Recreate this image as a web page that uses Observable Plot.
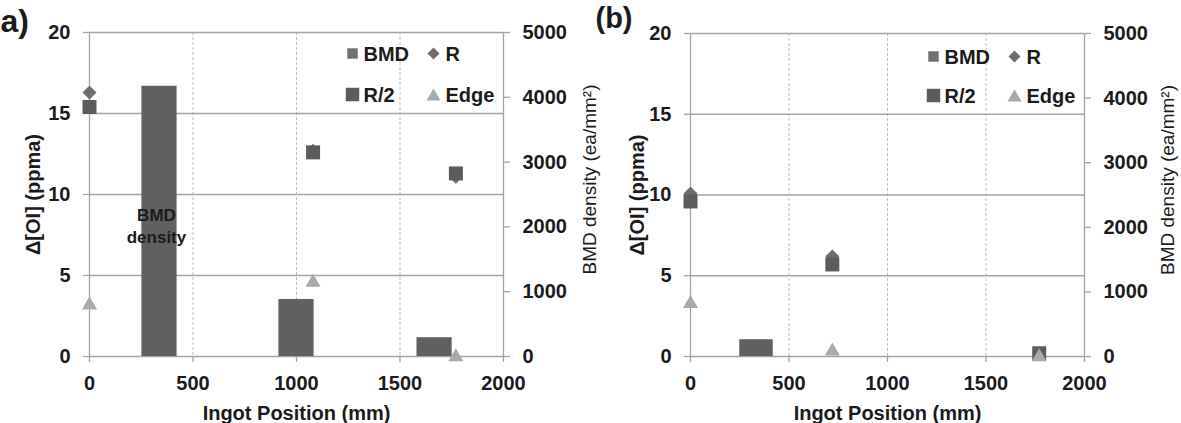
<!DOCTYPE html>
<html>
<head>
<meta charset="utf-8">
<script src="https://cdn.jsdelivr.net/npm/d3@7"></script>
<script src="https://cdn.jsdelivr.net/npm/@observablehq/plot@0.6"></script>
<style>
  html, body { margin: 0; padding: 0; background: #fff; }
  #chart { display: flex; width: 1181px; height: 423px; overflow: hidden; background: #fff; }
  #chart svg { flex: none; }
</style>
</head>
<body>
<div id="chart"></div>
<script>
// Shared axes
const xTicks = [0, 500, 1000, 1500, 2000];
const oiTicks = [0, 5, 10, 15, 20];
const densityTicks = [0, 1000, 2000, 3000, 4000, 5000];
const legendNames = ["BMD", "R", "R/2", "Edge"];

// Panel a: Δ[OI] at R, R/2 and edge, and BMD density bars
const aPosition = [0, 1080, 1770];
const aR = [16.3, 12.7, 11.1];
const aRHalf = [15.4, 12.6, 11.3];
const aEdge = [3.3, 4.7, 0.1];
const aBarCenter = [338, 1000, 1667];
const aBmd = [4170, 880, 290];

// Panel b
const bPosition = [0, 720, 1770];
const bR = [10.1, 6.2, 0.2];
const bRHalf = [9.6, 5.7, 0.2];
const bEdge = [3.4, 0.45, 0.1];
const bBarCenter = [335];
const bBmd = [260];

const barWidth = 170;                              // mm along the ingot
const densityPerOi = densityTicks.at(-1) / oiTicks.at(-1); // secondary axis ratio

const ink = "#1b1b1b";
const gridColor = "#a4a4a4";
const dashColor = "#bdbdbd";
const barColor = "#606060";

const symbols = {
  "BMD":  {symbol: "square",   fill: "#707070", legendR: 5.9},
  "R":    {symbol: "diamond2", fill: "#6e6e6e", r: 6.3, legendR: 5.4},
  "R/2":  {symbol: "square",   fill: "#5c5c5c", r: 7.9, legendR: 7.6},
  "Edge": {symbol: "triangle", fill: "#a9a9a9", r: 5.6, legendR: 5.2}
};

function legendMarks(rowDy) {
  const colDot = [-151, -70];
  const colText = [-140, -58];
  const marks = [];
  legendNames.forEach((name, i) => {
    const col = i % 2, row = Math.floor(i / 2);
    const s = symbols[name];
    marks.push(Plot.dot([name], {
      frameAnchor: "top-right", dx: colDot[col], dy: rowDy[row] + (s.symbol === "triangle" ? 2 : 0),
      symbol: s.symbol, r: s.legendR, fill: s.fill, stroke: "none"
    }));
    marks.push(Plot.text([name], {
      frameAnchor: "top-right", dx: colText[col], dy: rowDy[row] + 1,
      text: d => d, textAnchor: "start", lineAnchor: "middle", fill: ink
    }));
  });
  return marks;
}

function panel(o) {
  const points = o.position.map((x, i) => ({x, r: o.r[i], rHalf: o.rHalf[i], edge: o.edge[i]}));
  const bars = o.barCenter.map((c, i) => ({
    x1: c - barWidth / 2, x2: c + barWidth / 2, center: c, density: o.bmd[i]
  }));
  const marks = [
    Plot.ruleX(xTicks.slice(1, -1), {stroke: dashColor, strokeDasharray: "3,2", strokeWidth: 1}),
    Plot.ruleY(oiTicks, {stroke: gridColor, strokeWidth: 1.3}),
    Plot.ruleX(d3.extent(xTicks), {stroke: gridColor, strokeWidth: 1.3}),
    Plot.axisX(xTicks, {anchor: "bottom", tickSize: 6, tickPadding: 13, stroke: gridColor, strokeWidth: 1.3,
      fill: ink, tickFormat: d => String(d), label: null}),
    Plot.axisY(oiTicks, {anchor: "left", tickSize: 6, tickPadding: 13, stroke: gridColor, strokeWidth: 1.3,
      fill: ink, tickFormat: d => String(d), label: null}),
    Plot.axisY(densityTicks, {anchor: "right", y: d => d / densityPerOi, text: d => String(d),
      tickSize: 6, tickPadding: 13, stroke: gridColor, strokeWidth: 1.3, fill: ink, label: null}),
    Plot.rectY(bars, {x1: "x1", x2: "x2", y1: 0, y2: d => d.density / densityPerOi, fill: barColor}),
    Plot.dot(points, {x: "x", y: "r", symbol: symbols.R.symbol, r: symbols.R.r, fill: symbols.R.fill, stroke: "none"}),
    Plot.dot(points, {x: "x", y: "rHalf", symbol: symbols["R/2"].symbol, r: symbols["R/2"].r, fill: symbols["R/2"].fill, stroke: "none"}),
    Plot.dot(points, {x: "x", y: "edge", dy: 2, symbol: symbols.Edge.symbol, r: symbols.Edge.r, fill: symbols.Edge.fill, stroke: "none"}),
    ...legendMarks(o.legendDy),
    Plot.text(["Ingot Position (mm)"], {frameAnchor: "bottom", dy: 49, lineAnchor: "top", textAnchor: "middle",
      text: d => d, fill: ink}),
    Plot.text(["Δ[OI] (ppma)"], {frameAnchor: "left", rotate: -90, dx: o.leftTitleDx, textAnchor: "middle",
      lineAnchor: "middle", text: d => d, fill: ink}),
    Plot.text(["BMD density (ea/mm²)"], {frameAnchor: "right", rotate: -90, dx: o.rightTitleDx, dy: -15,
      textAnchor: "middle", lineAnchor: "middle", text: d => d, fill: ink, fontWeight: "normal", fontSize: 19}),
    Plot.text([o.tag], {frameAnchor: "top-left", dx: o.tagDx, dy: o.tagDy, textAnchor: "start",
      lineAnchor: "middle", text: d => d, fill: ink, fontSize: o.tagSize})
  ];
  if (o.note) {
    marks.push(Plot.text(bars.slice(0, 1), {x: "center", frameAnchor: "top", dx: -3, dy: 192,
      lineAnchor: "middle", textAnchor: "middle", text: () => o.note, fontSize: 17, lineHeight: 1.3, fill: ink}));
  }
  return Plot.plot({
    width: o.width,
    height: 423,
    marginLeft: o.marginLeft,
    marginRight: o.marginRight,
    marginTop: o.marginTop,
    marginBottom: 67,
    x: {domain: d3.extent(xTicks)},
    y: {domain: d3.extent(oiTicks)},
    style: {
      fontFamily: "'Liberation Sans', Arial, sans-serif",
      fontSize: "20px",
      fontWeight: "bold",
      color: ink,
      background: "none",
      overflow: "visible"
    },
    marks
  });
}

const chart = document.getElementById("chart");
const left = panel({
  width: 590, marginLeft: 89, marginRight: 87, marginTop: 32,
  position: aPosition, r: aR, rHalf: aRHalf, edge: aEdge,
  barCenter: aBarCenter, bmd: aBmd, note: "BMD\ndensity",
  legendDy: [21, 62], leftTitleDx: -56, rightTitleDx: 86,
  tag: "a)", tagSize: 32, tagDx: -89, tagDy: -11
});
const right = panel({
  width: 591, marginLeft: 100, marginRight: 97, marginTop: 33,
  position: bPosition, r: bR, rHalf: bRHalf, edge: bEdge,
  barCenter: bBarCenter, bmd: bBmd, note: null,
  legendDy: [23, 62], leftTitleDx: -53, rightTitleDx: 83,
  tag: "(b)", tagSize: 29, tagDx: -95, tagDy: -15
});
// the first panel's right-hand title runs slightly past its own box, so keep it on top
left.style.position = "relative";
left.style.zIndex = "1";
chart.append(left, right);
</script>
</body>
</html>
